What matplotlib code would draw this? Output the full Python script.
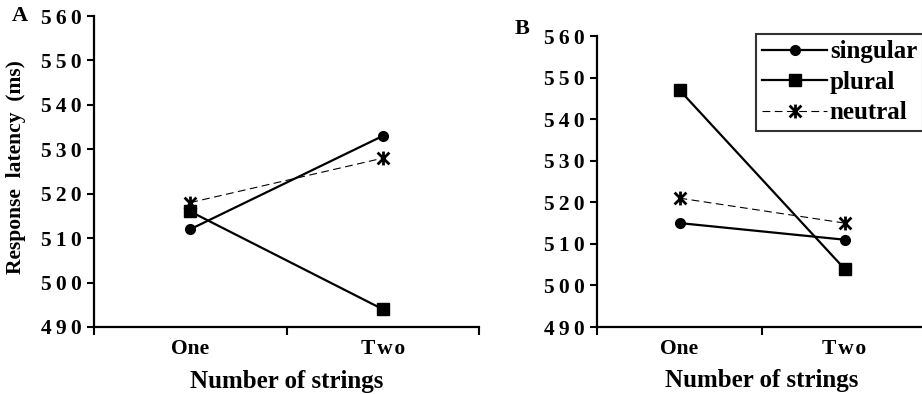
import matplotlib
matplotlib.use("Agg")
import matplotlib.pyplot as plt
from matplotlib.path import Path

categories = ["One", "Two"]
series_names = ["singular", "plural", "neutral"]
panel_a = {"singular": [512, 533], "plural": [516, 494], "neutral": [518, 528]}
panel_b = {"singular": [515, 511], "plural": [547, 504], "neutral": [521, 515]}
yticks = [490, 500, 510, 520, 530, 540, 550, 560]

plt.rcParams['font.family'] = ['Liberation Serif', 'DejaVu Serif']
plt.rcParams['font.weight'] = 'bold'

def spaced(s, sep="\u2009"):
    return sep.join(list(s))

star = Path([(0, -1), (0, 1), (-0.85, -0.85), (0.85, 0.85), (-0.85, 0.85), (0.85, -0.85)],
            [Path.MOVETO, Path.LINETO, Path.MOVETO, Path.LINETO, Path.MOVETO, Path.LINETO])

styles = {
    "singular": dict(color="black", lw=1.6, ls="-", marker="o", ms=7, mfc="black", mec="black"),
    "plural": dict(color="black", lw=1.6, ls="-", marker="s", ms=8.5, mfc="black", mec="black"),
    "neutral": dict(color="black", lw=0.8, ls=(0, (7, 4)), marker=star, ms=10, mew=2.0, mec="black"),
}

fig = plt.figure(figsize=(9.22, 3.94), dpi=100)
W, H = 922, 394
def axpos(l, r, t, b):
    return [l / W, 1 - b / H, (r - l) / W, (b - t) / H]

axA = fig.add_axes(axpos(94, 479, 16, 327))
axB = fig.add_axes(axpos(597, 927, 36, 327))

TICK_FS = 15.5
xs = list(range(len(categories)))
for ax, data in [(axA, panel_a), (axB, panel_b)]:
    for name in series_names:
        ax.plot(xs, data[name], label=name, clip_on=False, **styles[name])
    ax.set_xlim(-0.5, 1.5)
    ax.set_ylim(490, 560)
    ax.set_yticks(yticks)
    ax.set_yticklabels([spaced(str(v)) for v in yticks], fontsize=TICK_FS, fontweight='bold')
    ax.set_xticks([-0.5, 0.5, 1.5])
    ax.set_xticklabels([])
    ax.set_xticks(xs, minor=True)
    ax.set_xticklabels(["One", spaced("Two", "\u200a")], minor=True, fontsize=TICK_FS, fontweight='bold')
    ax.tick_params(axis='x', which='minor', length=0, pad=9)
    ax.tick_params(axis='x', which='major', length=6, width=1.5, direction='out')
    ax.tick_params(axis='y', length=5, width=1.5, direction='out', pad=4)
    for s in ['top', 'right']:
        ax.spines[s].set_visible(False)
    for s in ['left', 'bottom']:
        ax.spines[s].set_linewidth(1.6)
    ax.set_xlabel("Number of strings", fontsize=18, fontweight='bold')

axA.xaxis.set_label_coords(0.5, -0.138)
axB.xaxis.set_label_coords(0.5, -0.146)

axA.set_ylabel("Response  latency  (ms)", fontsize=15.5, fontweight='bold')
axA.yaxis.set_label_coords(-0.176, 0.513)

fig.text(20 / W, 1 - 16 / H, "A", fontsize=16, fontweight='bold', ha='center', va='center')
fig.text(522 / W, 1 - 28.5 / H, "B", fontsize=16, fontweight='bold', ha='center', va='center')

leg = axB.legend(loc='upper left', bbox_to_anchor=(756 / W, 1 - 34 / H), bbox_transform=fig.transFigure,
                 prop={'family': 'Liberation Serif', 'weight': 'bold', 'size': 18},
                 handlelength=2.6, handletextpad=0.1, labelspacing=0.3, borderpad=0.25,
                 borderaxespad=0, fancybox=False, frameon=True)
leg.get_frame().set_edgecolor('black')
leg.get_frame().set_linewidth(1.5)

fig.savefig("out.png", dpi=100)
